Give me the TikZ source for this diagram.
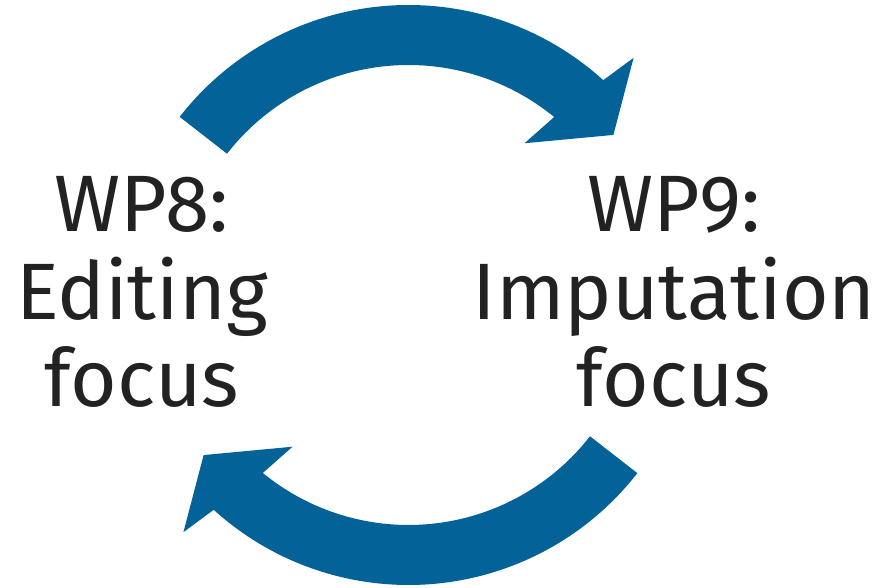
\documentclass[tikz,border=0pt]{standalone}
\usepackage{fontspec}
\setmainfont{Fira Sans}
\usetikzlibrary{positioning}
\definecolor{wpblue}{HTML}{036399}
\definecolor{wptext}{HTML}{222222}

\tikzset{
  wplabel/.style={align=center, text=wptext, inner sep=0pt,
    font=\fontsize{80}{87.5}\selectfont},
  swoosh/.style={fill=wpblue}
}

\begin{document}
\begin{tikzpicture}[x=1pt, y=1pt]
    \useasboundingbox (0,0) rectangle (881,588);

    % Centre of the cycle
    \coordinate (c) at (408.5,293);

    % The two curved arrows, one turned half a circle
    \foreach \r in {0,180} {
        \begin{scope}[shift={(c)}, rotate=\r]
            \fill[swoosh] (142.1:290) arc[start angle=142.1, end angle=47.8, radius=290]
                -- (46.5:327) -- (38:260) -- (52.6:191) -- (50.7:230)
                arc[start angle=50.7, end angle=142.1, radius=230] -- cycle;
        \end{scope}
    }

    % Work packages
    \node[wplabel, anchor=base] (wp8) at (142,181) {WP8:\\Editing\\focus};
    \node[wplabel, anchor=base] (wp9) at (674,181) {WP9:\\Imputation\\focus};
\end{tikzpicture}
\end{document}
